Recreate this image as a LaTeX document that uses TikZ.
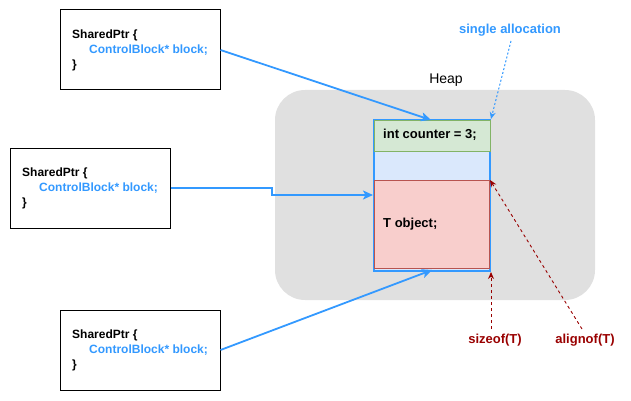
\documentclass[tikz,border=0pt]{standalone}
\usepackage{fontspec}
\setmainfont{Liberation Sans}
\usetikzlibrary{arrows.meta}
\definecolor{ablue}{HTML}{3399FF}
\definecolor{dred}{HTML}{990000}
\definecolor{heapgray}{HTML}{E0E0E0}
\definecolor{gfill}{HTML}{D5E8D4}
\definecolor{gline}{HTML}{82B366}
\definecolor{bfill}{HTML}{DAE8FC}
\definecolor{rfill}{HTML}{F8CECC}
\definecolor{rline}{HTML}{B85450}
\tikzset{
  ptrbox/.style={draw=black, line width=1pt, fill=white, minimum width=160pt, minimum height=80pt, inner sep=0pt},
  code/.style={font=\fontsize{12pt}{15pt}\selectfont\bfseries, align=left, anchor=west, inner sep=0pt},
  blocktxt/.style={font=\fontsize{13pt}{15pt}\selectfont\bfseries, anchor=west, inner sep=0pt},
  lbl/.style={font=\fontsize{13pt}{15pt}\selectfont\bfseries, inner sep=0pt},
  ptrarrow/.style={draw=ablue, line width=1.8pt, -{Stealth[length=10pt,width=9pt,inset=2.5pt]}},
  redarrow/.style={draw=dred, line width=0.9pt, dash pattern=on 3pt off 3pt},
}
\begin{document}
\begin{tikzpicture}[x=1pt,y=-1pt]
\useasboundingbox (0,0) rectangle (631,401);
% heap
\node[draw=none, fill=heapgray, rounded corners=30pt, minimum width=320pt, minimum height=210pt, inner sep=0pt] (heap) at (435,195) {};
\node[font=\fontsize{14pt}{15pt}\selectfont, inner sep=0pt] (heaplbl) at (446,80) {Heap};
% memory block
\node[draw=ablue, line width=2pt, fill=bfill, minimum width=116pt, minimum height=151pt, inner sep=0pt] (mem) at (432,195.5) {};
\node[draw=gline, line width=1pt, fill=gfill, minimum width=116pt, minimum height=31pt, inner sep=0pt] (cnt) at (432,135.5) {};
\node[draw=rline, line width=1pt, fill=rfill, minimum width=115pt, minimum height=88pt, inner sep=0pt] (obj) at (431.5,224) {};
\node[blocktxt] (cnttxt) at (383,135) {int counter = 3;};
\node[blocktxt] (objtxt) at (383,224) {T object;};
% pointer boxes
\node[ptrbox] (p1) at (140,50) {};
\node[code] (p1t) at (72,50) {SharedPtr \{\\\hspace*{17pt}\textcolor{ablue}{ControlBlock* block;}\\\}};
\node[ptrbox] (p2) at (90,188) {};
\node[code] (p2t) at (22,188) {SharedPtr \{\\\hspace*{17pt}\textcolor{ablue}{ControlBlock* block;}\\\}};
\node[ptrbox] (p3) at (140,350) {};
\node[code] (p3t) at (72,350) {SharedPtr \{\\\hspace*{17pt}\textcolor{ablue}{ControlBlock* block;}\\\}};
% arrows
\coordinate (c1) at (431,120);
\coordinate (c3) at (432,270);
\draw[ptrarrow] (p1.east) -- (c1);
\draw[ptrarrow] (p2.east) -- (272,188) -- (272,195) -- (mem.west |- 0,195);
\draw[ptrarrow] (p3.east) -- (c3);
% labels
\node[lbl, text=ablue] (single) at (510,30) {single allocation};
\draw[draw=ablue, line width=1pt, dash pattern=on 2pt off 2pt, -{Stealth[length=7pt,width=6pt]}] (511,41) -- (mem.north east);
\node[lbl, text=dred] (sz) at (495,340) {sizeof(T)};
\node[lbl, text=dred] (al) at (585,340) {alignof(T)};
\draw[redarrow, -{Stealth[length=7pt,width=6pt]}] (491,329) -- (491,272);
\draw[redarrow, -{Stealth[length=7pt,width=6pt]}] (582,329) -- (490,180);
\end{tikzpicture}
\end{document}
